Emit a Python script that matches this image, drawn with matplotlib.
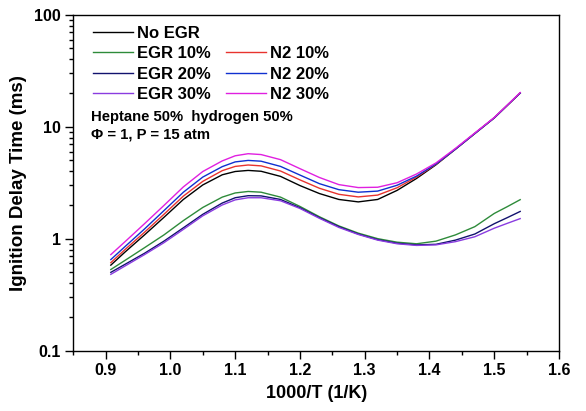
import numpy as np
import matplotlib
matplotlib.use("Agg")
import matplotlib.pyplot as plt
from matplotlib.lines import Line2D
from matplotlib.ticker import LogLocator, FixedLocator, NullFormatter, FuncFormatter

plt.rcParams['font.family'] = ['Liberation Sans', 'DejaVu Sans']

# ---- data (1000/T in 1/K, IDT in ms) ----
inv_T = [0.908, 0.93, 0.96, 0.99, 1.02, 1.05, 1.08, 1.10, 1.12, 1.14, 1.17, 1.20,
         1.23, 1.26, 1.29, 1.32, 1.35, 1.38, 1.41, 1.44, 1.47, 1.50, 1.52, 1.54]

no_egr = [0.58, 0.76, 1.08, 1.55, 2.24, 3.02, 3.72, 3.98, 4.07, 4.0, 3.60, 2.98,
          2.53, 2.24, 2.13, 2.24, 2.70, 3.45, 4.57, 6.3, 8.7, 12.0, 15.5, 20.0]
egr_10 = [0.53, 0.64, 0.83, 1.08, 1.45, 1.90, 2.35, 2.56, 2.64, 2.60, 2.35, 1.94,
          1.57, 1.30, 1.12, 1.00, 0.93, 0.90, 0.95, 1.08, 1.28, 1.68, 1.93, 2.23]
egr_20 = [0.50, 0.59, 0.74, 0.95, 1.25, 1.65, 2.08, 2.32, 2.42, 2.41, 2.24, 1.89,
          1.54, 1.28, 1.10, 0.98, 0.91, 0.88, 0.89, 0.97, 1.10, 1.36, 1.54, 1.75]
egr_30 = [0.48, 0.57, 0.72, 0.92, 1.21, 1.60, 2.00, 2.22, 2.32, 2.32, 2.18, 1.86,
          1.52, 1.26, 1.09, 0.97, 0.90, 0.87, 0.88, 0.94, 1.04, 1.24, 1.37, 1.51]
n2_10 = [0.61, 0.80, 1.14, 1.65, 2.40, 3.25, 4.05, 4.42, 4.55, 4.47, 4.02, 3.35,
         2.82, 2.49, 2.36, 2.45, 2.85, 3.55, 4.62, 6.3, 8.7, 12.0, 15.5, 20.0]
n2_20 = [0.65, 0.85, 1.22, 1.78, 2.60, 3.55, 4.40, 4.85, 5.0, 4.92, 4.42, 3.70,
         3.10, 2.74, 2.60, 2.66, 3.0, 3.62, 4.65, 6.3, 8.7, 12.0, 15.5, 20.0]
n2_30 = [0.72, 0.94, 1.36, 1.98, 2.90, 3.98, 4.95, 5.5, 5.74, 5.64, 5.08, 4.22,
         3.52, 3.04, 2.86, 2.88, 3.16, 3.78, 4.75, 6.4, 8.8, 12.1, 15.6, 20.2]

fig = plt.figure(figsize=(5.86, 4.11), dpi=100)
ax = fig.add_axes([0.125, 0.147, 0.829, 0.817])

ax.plot(inv_T, no_egr, color="#000000", lw=1.0, label="No EGR")
ax.plot(inv_T, egr_10, color="#2e8b3a", lw=1.0, label="EGR 10%")
ax.plot(inv_T, egr_20, color="#12126e", lw=1.0, label="EGR 20%")
ax.plot(inv_T, egr_30, color="#8a3ce0", lw=1.0, label="EGR 30%")
ax.plot(inv_T, n2_10, color="#e8332e", lw=1.0, label="N2 10%")
ax.plot(inv_T, n2_20, color="#1030d0", lw=1.0, label="N2 20%")
ax.plot(inv_T, n2_30, color="#e020e0", lw=1.0, label="N2 30%")

ax.set_yscale("log")
ax.set_xlim(0.85, 1.6); ax.set_ylim(0.1, 100)
ax.set_xticks(np.arange(0.9, 1.61, 0.1))
ax.xaxis.set_minor_locator(FixedLocator(np.arange(0.85, 1.6, 0.1)))
ax.xaxis.set_major_formatter(FuncFormatter(lambda v, p: f"{v:.1f}"))
ax.yaxis.set_major_locator(LogLocator(base=10, numticks=10))
ax.yaxis.set_minor_locator(LogLocator(base=10, subs=np.arange(2, 10), numticks=10))
ax.yaxis.set_minor_formatter(NullFormatter())
ax.yaxis.set_major_formatter(FuncFormatter(lambda v, p: f"{v:g}"))
ax.tick_params(which="major", direction="out", length=6, width=1, labelsize=11.5, pad=3,
               top=False, right=False)
ax.tick_params(which="minor", direction="out", length=3, width=1, top=False, right=False)
for lab in ax.get_xticklabels() + ax.get_yticklabels():
    lab.set_fontweight("bold")
for s in ax.spines.values():
    s.set_linewidth(1.0)

ax.set_xlabel("1000/T (1/K)", fontsize=13, fontweight="bold", labelpad=5)
ax.set_ylabel("Ignition Delay Time (ms)", fontsize=13.5, fontweight="bold", labelpad=5)

# legend: two columns, blank slot above N2 entries
h, l = ax.get_legend_handles_labels()
blank = Line2D([], [], color="none")
handles = h[:4] + [blank] + h[4:]
labels = l[:4] + [""] + l[4:]
ax.legend(handles, labels, ncol=2, loc="upper left", bbox_to_anchor=(0.04, 0.968),
          frameon=False, prop={"size": 12, "weight": "bold"}, handlelength=2.4,
          handletextpad=0.25, columnspacing=0.9, labelspacing=0.33, borderpad=0,
          borderaxespad=0)

ax.text(0.036, 0.697, "Heptane 50%  hydrogen 50%", transform=ax.transAxes,
        fontsize=10.7, fontweight="bold", va="center", ha="left")
ax.text(0.036, 0.645, "\u03a6 = 1, P = 15 atm", transform=ax.transAxes,
        fontsize=10.7, fontweight="bold", va="center", ha="left")

fig.savefig("out.png", dpi=100)
